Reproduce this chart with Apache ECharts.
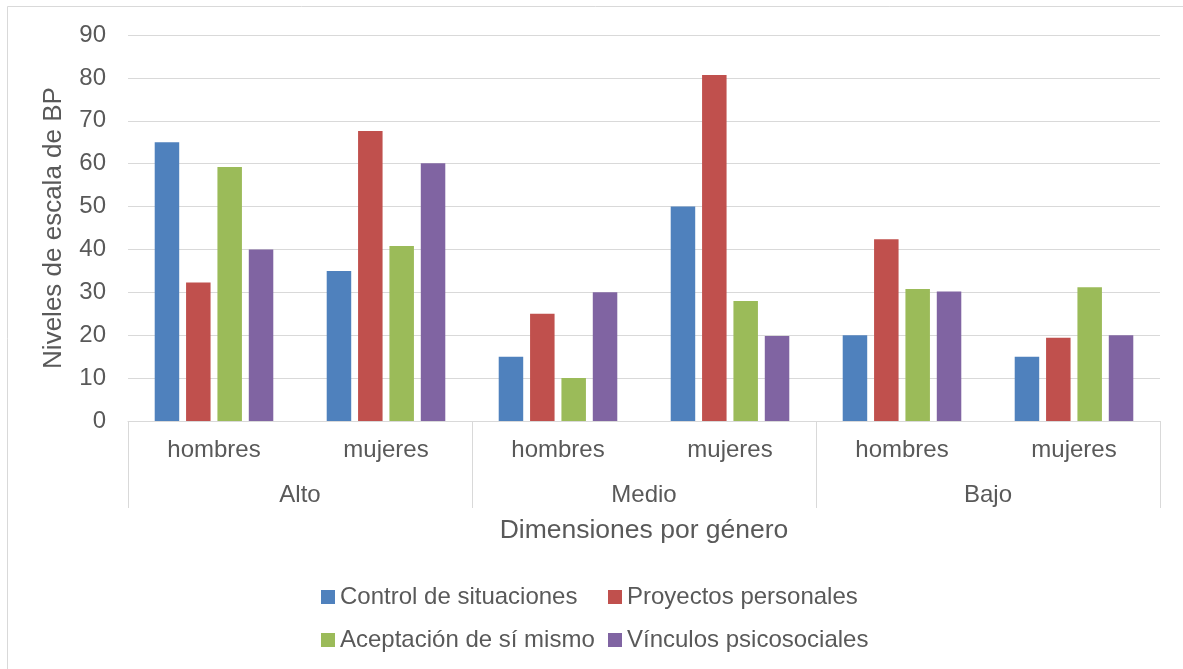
<!DOCTYPE html>
<html>
<head>
<meta charset="utf-8">
<script src="https://cdn.jsdelivr.net/npm/echarts@6/dist/echarts.min.js"></script>
<style>
  html, body { margin: 0; padding: 0; background: #ffffff; }
  #chart { width: 1183px; height: 669px; }
</style>
</head>
<body>
<div id="chart"></div>
<script>
// Sub-categories (gender) and their level groups
const subCategories = ['hombres', 'mujeres', 'hombres', 'mujeres', 'hombres', 'mujeres'];
const groupCategories = ['Alto', 'Medio', 'Bajo'];

// Scores per dimension, in the order of subCategories
const controlSituaciones   = [65, 35, 15, 50, 20, 15];
const proyectosPersonales  = [32.3, 67.6, 25, 80.7, 42.4, 19.4];
const aceptacionSiMismo    = [59.2, 40.8, 10, 28, 30.8, 31.2];
const vinculosPsicosociales = [40, 60.1, 30, 19.8, 30.2, 20];

const seriesNames = ['Control de situaciones', 'Proyectos personales',
                     'Aceptación de sí mismo', 'Vínculos psicosociales'];
const seriesColors = ['#4F81BD', '#C0504D', '#9BBB59', '#8064A2'];

const yTicks = { min: 0, max: 90, interval: 10 };

const FONT = "'Liberation Sans', Arial, sans-serif";
const TEXT = '#595959';
const GRID_LINE = '#d9d9d9';

const chart = echarts.init(document.getElementById('chart'));

const values = [controlSituaciones, proyectosPersonales, aceptacionSiMismo, vinculosPsicosociales];

// One legend block per entry so the two rows line up in columns
function legendAt(name, left, top) {
  return {
    data: [name],
    left: left,
    top: top,
    orient: 'horizontal',
    icon: 'rect',
    itemWidth: 14,
    itemHeight: 14,
    padding: 0,
    selectedMode: false,
    textStyle: { fontFamily: FONT, fontSize: 24, color: TEXT, lineHeight: 26 }
  };
}

chart.setOption({
  animation: false,
  backgroundColor: '#ffffff',
  textStyle: { fontFamily: FONT },
  graphic: [{
    type: 'rect',
    silent: true,
    z: -10,
    shape: { x: 7.5, y: 6.5, width: 1300, height: 800 },
    style: { fill: 'none', stroke: GRID_LINE, lineWidth: 1 }
  }],
  legend: [
    legendAt(seriesNames[0], 321, 584),
    legendAt(seriesNames[1], 608, 584),
    legendAt(seriesNames[2], 321, 627),
    legendAt(seriesNames[3], 608, 627)
  ],
  grid: { left: 128, right: 23, top: 35, bottom: 248, containLabel: false },
  xAxis: [
    {
      type: 'category',
      data: subCategories,
      position: 'bottom',
      axisLine: { show: true, lineStyle: { color: GRID_LINE, width: 1 } },
      axisTick: { show: false },
      axisLabel: { fontFamily: FONT, fontSize: 24, color: TEXT, margin: 17, lineHeight: 24, interval: 0 },
      splitLine: { show: false }
    },
    {
      type: 'category',
      data: groupCategories,
      position: 'bottom',
      axisLine: { show: false },
      axisTick: { show: true, length: 87, lineStyle: { color: GRID_LINE, width: 1 } },
      axisLabel: { fontFamily: FONT, fontSize: 24, color: TEXT, margin: 62, lineHeight: 24, interval: 0 },
      splitLine: { show: false },
      name: 'Dimensiones por género',
      nameLocation: 'middle',
      nameGap: 95,
      nameTextStyle: { fontFamily: FONT, fontSize: 26.5, color: TEXT, lineHeight: 30 }
    }
  ],
  yAxis: {
    type: 'value',
    min: yTicks.min,
    max: yTicks.max,
    interval: yTicks.interval,
    axisLine: { show: false },
    axisTick: { show: false },
    axisLabel: { fontFamily: FONT, fontSize: 24, color: TEXT, margin: 22 },
    splitLine: { lineStyle: { color: GRID_LINE, width: 1 } },
    name: 'Niveles de escala de BP',
    nameLocation: 'middle',
    nameGap: 51,
    nameTextStyle: { fontFamily: FONT, fontSize: 26, color: TEXT, lineHeight: 30 }
  },
  series: values.map((v, i) => ({
    name: seriesNames[i],
    type: 'bar',
    xAxisIndex: 0,
    data: v,
    barWidth: 24.5,
    barGap: '28%',
    itemStyle: { color: seriesColors[i] }
  }))
});
</script>
</body>
</html>
